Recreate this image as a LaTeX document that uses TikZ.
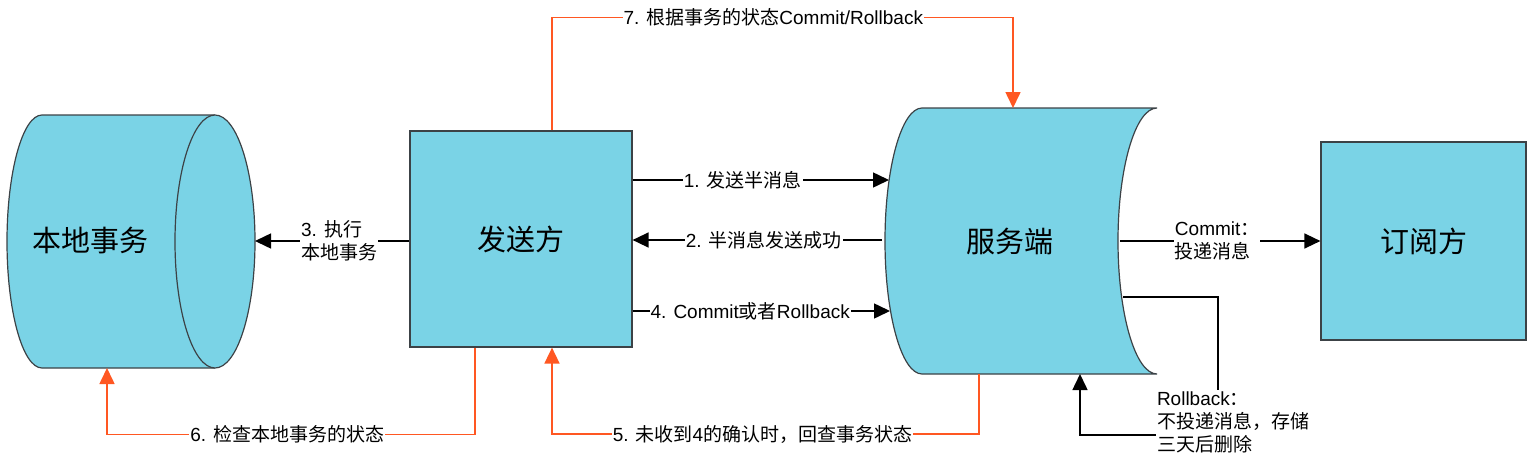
\documentclass[tikz,border=0pt]{standalone}
\usepackage{fontspec}
\setmainfont{Liberation Sans}
\newfontfamily\cjk{Noto Sans CJK SC}
\usepackage{tikz}
\usetikzlibrary{arrows.meta}
\definecolor{boxblue}{RGB}{122,211,230}
\definecolor{boxline}{RGB}{60,66,70}
\definecolor{orangeline}{RGB}{255,87,34}

\begin{document}
\begin{tikzpicture}[x=1pt,y=-1pt,
  shapebox/.style={draw=boxline,fill=boxblue,line width=1.2pt},
  bigtxt/.style={font=\fontsize{29}{35}\selectfont\cjk},
  lbl/.style={fill=white,inner sep=1pt,font=\fontsize{19}{23}\selectfont},
  conn/.style={line width=1.5pt,-{Triangle[length=16pt,width=15pt]}},
  orangeconn/.style={draw=orangeline,line width=1.6pt,-{Triangle[length=16pt,width=15pt]}}]
\useasboundingbox (0,0) rectangle (1531,463);
%
% local transaction
\draw[shapebox] (42,115) -- (215,115) arc[start angle=-90,end angle=90,x radius=40,y radius=126.5]
  -- (42,368) arc[start angle=90,end angle=270,x radius=35,y radius=126.5] -- cycle;
\draw[shapebox] (215,115) arc[start angle=-90,end angle=-270,x radius=40,y radius=126.5];
\node[bigtxt] (local) at (90,241) {本地事务};
\coordinate (localE) at (255,241);
\coordinate (localS) at (107,368);
%
% server
\draw[shapebox] (922,108) -- (1157,108) arc[start angle=-90,end angle=-270,x radius=39,y radius=133]
  -- (922,374) arc[start angle=90,end angle=270,x radius=37,y radius=133] -- cycle;
\node[bigtxt] (server) at (1010,241) {服务端};
\coordinate (srvIn1) at (889,180);
\coordinate (srvOut2) at (882,240);
\coordinate (srvIn4) at (890,311);
\coordinate (srvOutC) at (1120,241);
\coordinate (srvOutR) at (1123,297);
\coordinate (srvTop) at (1013,108);
\coordinate (srvBot5) at (979,374);
\coordinate (srvBotR) at (1080,374);
%
\node[shapebox,bigtxt,minimum width=222,minimum height=216] (sender) at (521,239) {发送方};
\node[shapebox,bigtxt,minimum width=205,minimum height=198] (sub) at (1423.5,241) {订阅方};
%
\draw[conn] (sender.east |- srvIn1) -- node[lbl,pos=.43] (m1) {1. {\cjk 发送半消息}} (srvIn1);
\draw[conn] (srvOut2) -- node[lbl,pos=.474] (m2) {2. {\cjk 半消息发送成功}} (sender.east |- srvOut2);
\draw[conn] (sender.west |- localE) -- node[lbl,align=left,pos=.455] (m3) {3. {\cjk 执行}\\{\cjk 本地事务}} (localE);
\draw[conn] (sender.east |- srvIn4) -- node[lbl,pos=.457] (m4) {4. Commit{\cjk 或者}Rollback} (srvIn4);
\draw[conn] (srvOutC) -- node[lbl,align=left,pos=.485] (mc) {Commit{\cjk ：}\\{\cjk 投递消息}} (sub.west |- srvOutC);
\draw[conn] (srvOutR) -| (1218,435)
  node[lbl,align=left,xshift=15,yshift=13] (mr) {Rollback{\cjk ：}\\{\cjk 不投递消息，存储}\\{\cjk 三天后删除}}
  -| (srvBotR);
%
\draw[orangeconn] ([xshift=31]sender.north) -- ++(0,-113) -| node[lbl,pos=.24] (m7) {7. {\cjk 根据事务的状态}Commit/Rollback} (srvTop);
\draw[orangeconn] (srvBot5) -- ++(0,60) -| node[lbl,pos=.2535] (m5) {5. {\cjk 未收到}4{\cjk 的确认时，回查事务状态}} ([xshift=31]sender.south);
\draw[orangeconn] ([xshift=-46]sender.south) -- ++(0,87) -| node[lbl,pos=.255] (m6) {6. {\cjk 检查本地事务的状态}} (localS);
\end{tikzpicture}
\end{document}
